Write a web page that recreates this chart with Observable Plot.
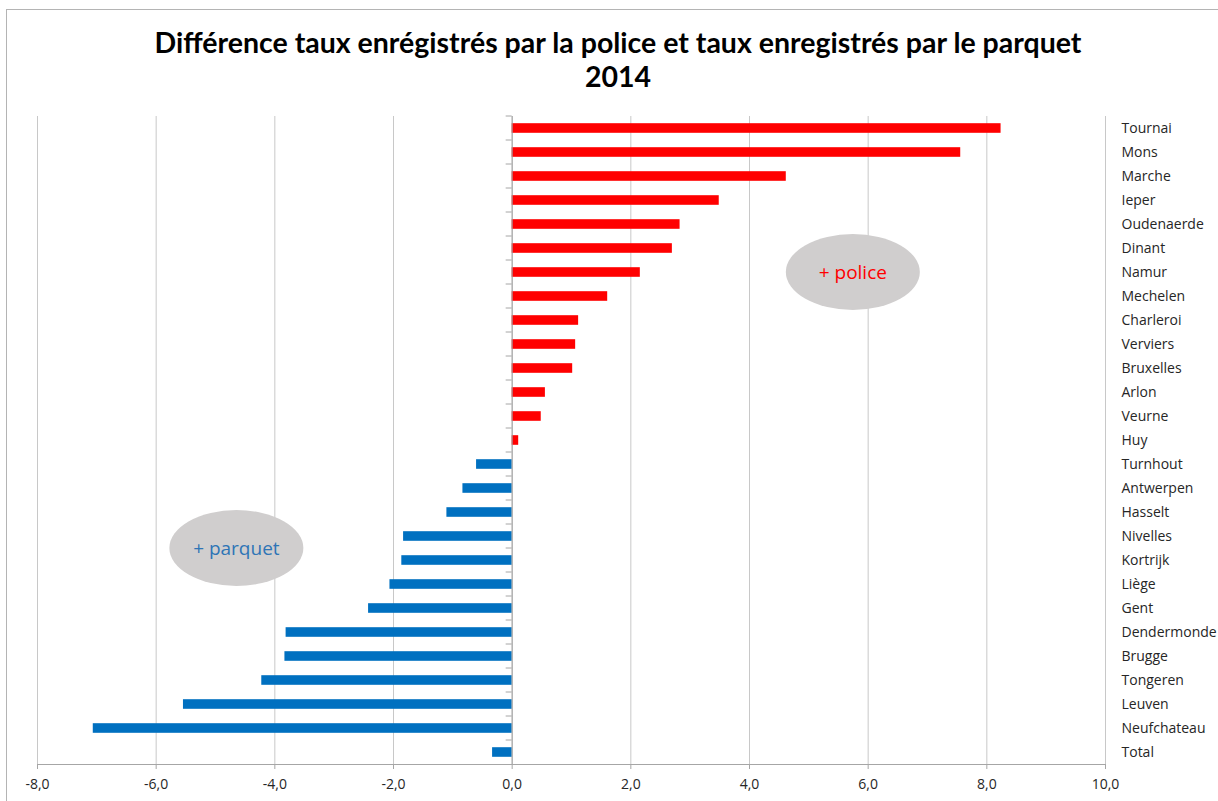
<!DOCTYPE html>
<html>
<head>
<meta charset="utf-8">
<script src="https://cdn.jsdelivr.net/npm/d3@7"></script>
<script src="https://cdn.jsdelivr.net/npm/@observablehq/plot@0.6"></script>
<style>
  html, body { margin: 0; padding: 0; background: #fff; }
  #wrap { width: 1218px; height: 801px; position: relative; overflow: hidden; }
  #title { box-sizing: border-box; height: 101px; padding-top: 25px; padding-left: 18px; text-align: center;
    font-family: Lato, "Open Sans", sans-serif; font-weight: bold; font-size: 28.5px; line-height: 34px; color: #000; }
  #chart svg { display: block; }
  #border { position: absolute; left: 6px; top: 9px; width: 1230px; height: 820px; border: 1px solid #b4b4b4; pointer-events: none; }
</style>
</head>
<body>
<div id="wrap">
  <div id="title">Différence taux enrégistrés par la police et taux enregistrés par le parquet<br>2014</div>
  <div id="chart"></div>
  <div id="border"></div>
</div>
<script>
const categories = ["Tournai","Mons","Marche","Ieper","Oudenaerde","Dinant","Namur","Mechelen","Charleroi","Verviers","Bruxelles","Arlon","Veurne","Huy","Turnhout","Antwerpen","Hasselt","Nivelles","Kortrijk","Liège","Gent","Dendermonde","Brugge","Tongeren","Leuven","Neufchateau","Total"];
const values = [8.24,7.56,4.62,3.49,2.83,2.70,2.16,1.61,1.12,1.07,1.02,0.56,0.49,0.11,-0.60,-0.83,-1.10,-1.83,-1.86,-2.06,-2.42,-3.81,-3.83,-4.22,-5.54,-7.06,-0.33];
const xTicks = [-8,-6,-4,-2,0,2,4,6,8,10];
const annotations = [
  {label: "+ police", x: 5.75, y1: "Namur", y2: "Namur", color: "#ff0000"},
  {label: "+ parquet", x: -4.64, y1: "Nivelles", y2: "Kortrijk", color: "#2e75b6"}
];
const posColor = "#ff0000", negColor = "#0070c0";

const data = categories.map((c, i) => ({category: c, value: values[i], color: values[i] >= 0 ? posColor : negColor}));
const fmt = d => d.toFixed(1).replace(".", ",");

const plot = Plot.plot({
  width: 1218, height: 700,
  marginTop: 15, marginBottom: 37, marginLeft: 37, marginRight: 113,
  style: {fontFamily: "'Open Sans', sans-serif", fontSize: "14px", color: "#262626", background: "transparent"},
  x: {domain: [-8, 10]},
  y: {domain: categories, paddingInner: 0.6, paddingOuter: 0.3, round: false},
  marks: [
    Plot.ruleX(xTicks, {stroke: "#c8c8c8", strokeWidth: 1}),
    Plot.barX(data, {x: "value", y: "category", fill: d => d.color}),
    Plot.ruleX([0], {stroke: "#a0a0a0"}),
    Plot.frame({anchor: "bottom", stroke: "#a6a6a6"}),
    Plot.axisX({anchor: "bottom", ticks: xTicks, tickFormat: fmt, tickSize: 5, tickPadding: 10, stroke: "#a6a6a6", fill: "#262626", label: null}),
    Plot.axisY({anchor: "right", tickSize: 0, tickPadding: 16, fill: "#262626", label: null})
  ]
});
document.getElementById("chart").appendChild(plot);

const xs = plot.scale("x"), ys = plot.scale("y");
const svg = d3.select(plot);
const step = ys.step, bw = ys.bandwidth;
const x0 = xs.apply(0);
// small ticks on the zero axis between categories
const tg = svg.append("g");
categories.forEach(c => {
  const yb = ys.apply(c) - (step - bw) / 2;
  tg.append("line").attr("x1", x0 - 6).attr("x2", x0).attr("y1", yb).attr("y2", yb).attr("stroke", "#a6a6a6");
});
// annotation bubbles
const ag = svg.append("g");
annotations.forEach(a => {
  const cx = xs.apply(a.x);
  const cy = (ys.apply(a.y1) + ys.apply(a.y2)) / 2 + bw / 2;
  ag.append("ellipse").attr("cx", cx).attr("cy", cy).attr("rx", 67).attr("ry", 38).attr("fill", "#d0cece");
  ag.append("text").attr("x", cx).attr("y", cy).attr("dy", "0.35em").attr("text-anchor", "middle")
    .attr("fill", a.color).attr("font-size", 19).attr("font-family", "'Open Sans', sans-serif").text(a.label);
});
</script>
</body>
</html>
